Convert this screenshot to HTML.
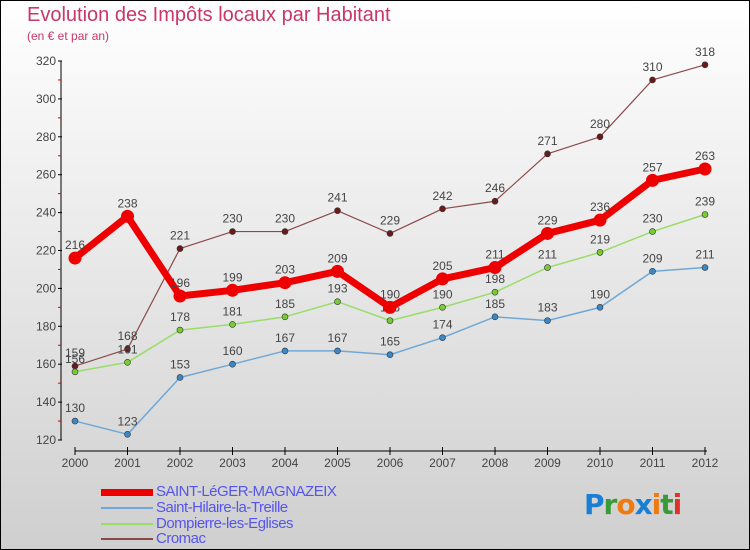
<!DOCTYPE html>
<html><head><meta charset="utf-8"><style>
body{margin:0}
#c{position:relative;width:750px;height:550px;box-sizing:border-box;border:1px solid #000;background:linear-gradient(#ffffff,#cfcfcf);font-family:"Liberation Sans",sans-serif;overflow:hidden}
.t{position:absolute;left:26px;top:3px;font-size:20px;color:#c8366a}
.s{position:absolute;left:26px;top:28px;font-size:12px;color:#c8366a}
.lg{position:absolute;left:100px;font-size:15px;color:#5555ee;letter-spacing:-0.5px}
.lg span{display:inline-block;width:52px;vertical-align:middle;margin-right:3px}
</style></head><body>
<div id="c">
<div class="t">Evolution des Impôts locaux par Habitant</div>
<div class="s">(en € et par an)</div>
<svg id="g" width="750" height="550" style="position:absolute;left:-1px;top:-1px"></svg>
<div class="lg" style="top:482px"><span style="height:7px;background:#e00"></span>SAINT-LéGER-MAGNAZEIX</div>
<div class="lg" style="top:498px"><span style="height:2px;background:#6fa8d8"></span>Saint-Hilaire-la-Treille</div>
<div class="lg" style="top:514px"><span style="height:2px;background:#99dd66"></span>Dompierre-les-Eglises</div>
<div class="lg" style="top:529px"><span style="height:2px;background:#8b4a4a"></span>Cromac</div>
<div style="position:absolute;left:583px;top:487px;font-size:28px;font-weight:bold;font-family:'DejaVu Sans',sans-serif;letter-spacing:-1px"><span style="color:#1a7fd4">P</span><span style="color:#3a9a3a">r</span><span style="color:#f07a10">o</span><span style="color:#1a7fd4">x</span><span style="color:#f07a10">i</span><span style="color:#3a9a3a">t</span><span style="color:#e0302a">i</span></div>
</div>
<script>
const years=[2000,2001,2002,2003,2004,2005,2006,2007,2008,2009,2010,2011,2012];
const saintLeger=[216,238,196,199,203,209,190,205,211,229,236,257,263];
const saintHilaire=[130,123,153,160,167,167,165,174,185,183,190,209,211];
const dompierre=[156,161,178,181,185,193,183,190,198,211,219,230,239];
const cromac=[159,168,221,230,230,241,229,242,246,271,280,310,318];
const yTicks=[120,140,160,180,200,220,240,260,280,300,320];
const NS="http://www.w3.org/2000/svg",g=document.getElementById('g');
const X=i=>75+i*(630/(years.length-1));
const Y=v=>440-(v-120)*(379/200);
function el(t,a,p){const e=document.createElementNS(NS,t);for(const k in a)e.setAttribute(k,a[k]);(p||g).appendChild(e);return e;}
let e=el('line',{x1:61,y1:61,x2:61,y2:440,stroke:'#000'});

e=el('line',{x1:75,y1:451,x2:707,y2:451,stroke:'#000'});

yTicks.forEach((v,i)=>{
 el('line',{x1:58,y1:Y(v),x2:62,y2:Y(v),stroke:'#000'});
 if(i<yTicks.length-1)el('line',{x1:58,y1:Y(v+10),x2:61,y2:Y(v+10),stroke:'#d00'});
 const t=el('text',{x:56,y:Y(v)+4,'text-anchor':'end','font-size':12,fill:'#444'});t.textContent=v;
 
});
years.forEach((y,i)=>{
 el('line',{x1:X(i),y1:447,x2:X(i),y2:455,stroke:'#000'});
 const t=el('text',{x:X(i),y:467,'text-anchor':'middle','font-size':12,fill:'#444'});t.textContent=y;
 
});
function series(d,col,w,r,fill,name){
 const p=el('polyline',{points:d.map((v,i)=>X(i)+','+Y(v)).join(' '),fill:'none',stroke:col,'stroke-width':w,'stroke-linejoin':'round'});
 
 d.forEach((v,i)=>{
  const c=el('circle',{cx:X(i),cy:Y(v),r:r,fill:fill,stroke:'#333','stroke-width':r>4?0:0.6});
  
  const t=el('text',{x:X(i),y:Y(v)-9,'text-anchor':'middle','font-size':12,fill:'#444'});t.textContent=v;
  
 });
}
series(cromac,'#8b4a4a',1.2,3,'#6a1a1a','cromac');
series(dompierre,'#99dd66',1.5,3,'#77cc33','dompierre');
series(saintHilaire,'#6fa8d8',1.5,3,'#3a88c8','saint-hilaire');
series(saintLeger,'#ee0000',7,6.5,'#ee0000','saint-leger');
</script>
</body></html>
